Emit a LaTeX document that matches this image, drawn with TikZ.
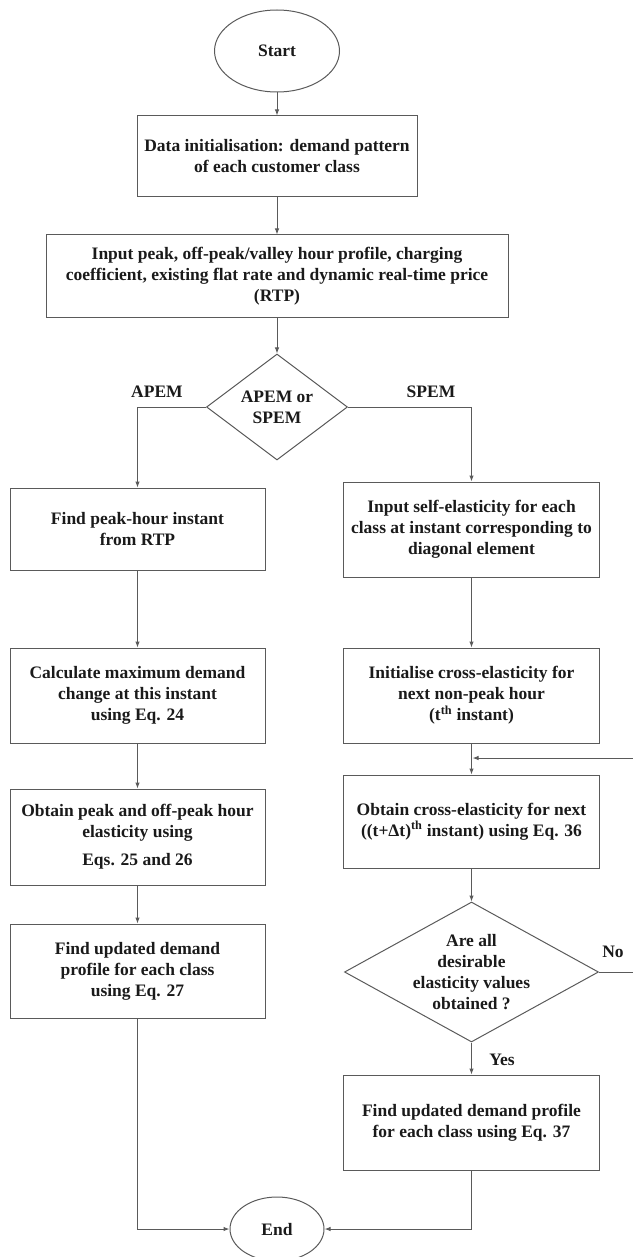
\documentclass[tikz,border=0pt]{standalone}
\usepackage{fontspec}
\setmainfont{Liberation Serif}
\usetikzlibrary{shapes.geometric,arrows.meta}
\definecolor{linec}{HTML}{5A5A5A}
\definecolor{txtc}{HTML}{1A1A1A}
\begin{document}
\begin{tikzpicture}[x=1pt,y=-1pt,
  txt/.style={font=\fontsize{17.5}{21}\selectfont\bfseries, text=txtc},
  box/.style={txt, draw=linec, line width=1pt, align=center, inner sep=0pt, rectangle},
  oval/.style={txt, draw=linec, line width=1pt, ellipse, inner sep=0pt},
  dia/.style={draw=linec, line width=1pt, diamond, inner sep=0pt},
  arr/.style={draw=linec, line width=1pt, -{Latex[length=6pt,width=4.5pt]}},
  lbl/.style={txt, inner sep=0pt}
]
\useasboundingbox (0,0) rectangle (632,1257);
% main column
\node[oval, minimum width=125, minimum height=82] (start) at (277,51) {Start};
\node[box, minimum width=280, minimum height=81] (data) at (277,156.5)
  {Data initialisation: demand pattern\\of each customer class};
\node[box, minimum width=462, minimum height=82] (input) at (277,276)
  {Input peak, off-peak/valley hour profile, charging\\coefficient, existing flat rate and dynamic real-time price\\(RTP)};
\node[dia, minimum width=141, minimum height=106] (d1) at (277,407) {};
\node[lbl, align=center] (d1t) at (d1.center) {APEM or\\SPEM};
% left column
\node[box, minimum width=255, minimum height=82] (L1) at (137.5,529)
  {Find peak-hour instant\\from RTP};
\node[box, minimum width=255, minimum height=95] (L2) at (137.5,695.5)
  {Calculate maximum demand\\change at this instant\\using Eq. 24};
\node[box, minimum width=255, minimum height=96] (L3) at (137.5,837)
  {Obtain peak and off-peak hour\\elasticity using\\[7pt]Eqs. 25 and 26};
\node[box, minimum width=255, minimum height=94] (L4) at (137.5,971)
  {Find updated demand\\profile for each class\\using Eq. 27};
% right column
\node[box, minimum width=256, minimum height=95] (R1) at (471.5,529.5)
  {Input self-elasticity for each\\class at instant corresponding to\\diagonal element};
\node[box, minimum width=256, minimum height=95] (R2) at (471.5,695.5)
  {Initialise cross-elasticity for\\next non-peak hour\\(t\textsuperscript{th} instant)};
\node[box, minimum width=256, minimum height=93] (R3) at (471.5,821.5)
  {Obtain cross-elasticity for next\\((t+Δt)\textsuperscript{th} instant) using Eq. 36};
\node[dia, minimum width=254, minimum height=140] (d2) at (471.5,972) {};
\node[lbl, align=center] (d2t) at (d2.center)
  {Are all\\desirable\\elasticity values\\obtained ?};
\node[box, minimum width=256, minimum height=95] (R4) at (471.5,1122.5)
  {Find updated demand profile\\for each class using Eq. 37};
\node[oval, minimum width=94, minimum height=64] (end) at (277,1229) {End};
% labels
\node[lbl] (lapem) at (157,392) {APEM};
\node[lbl] (lspem) at (431,392) {SPEM};
\node[lbl] (lno) at (613,952) {No};
\node[lbl] (lyes) at (502,1060) {Yes};
% feedback coordinates (vertical part lies just beyond the right edge, as in the reference)
\coordinate (fb1) at (633.5,972);
\coordinate (fb2) at (633.5,758);
\coordinate (join) at (472.5,758);
% connectors
\draw[arr] (start) -- (data);
\draw[arr] (data) -- (input);
\draw[arr] (input) -- (d1);
\draw[arr] (d1.west) -| (L1.north);
\draw[arr] (d1.east) -| (R1.north);
\draw[arr] (L1) -- (L2);
\draw[arr] (L2) -- (L3);
\draw[arr] (L3) -- (L4);
\draw[arr] (L4.south) |- (end.west);
\draw[arr] (R1) -- (R2);
\draw[arr] (R2) -- (R3);
\draw[arr] (R3) -- (d2);
\draw[arr] (d2.south) -- (R4);
\draw[arr] (R4.south) |- (end.east);
\draw[arr] (d2.east) -- (fb1) -- (fb2) -- (join);
\end{tikzpicture}
\end{document}
